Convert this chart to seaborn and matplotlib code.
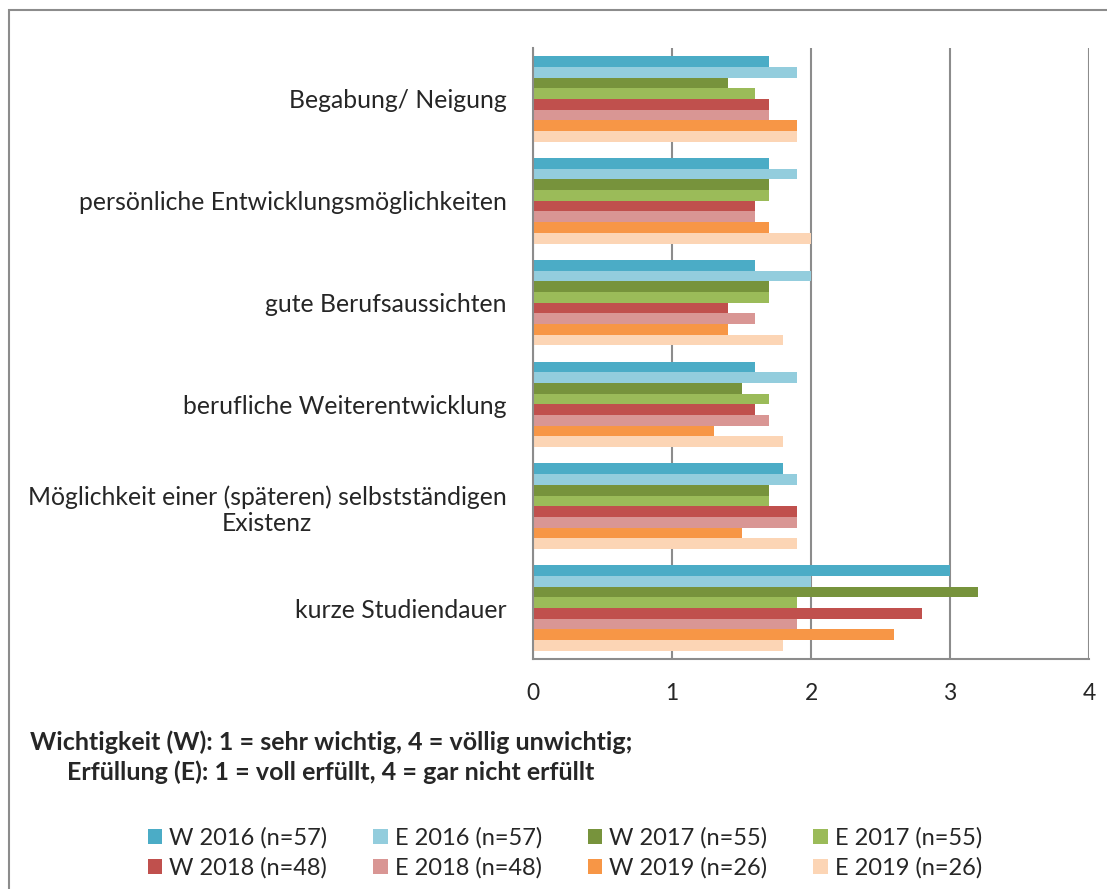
import matplotlib
matplotlib.use("Agg")
import matplotlib.pyplot as plt
from matplotlib.patches import Rectangle, Patch
import seaborn as sns
import pandas as pd

categories = [
    "Begabung/ Neigung",
    "persönliche Entwicklungsmöglichkeiten",
    "gute Berufsaussichten",
    "berufliche Weiterentwicklung",
    "Möglichkeit einer (späteren) selbstständigen\nExistenz",
    "kurze Studiendauer",
]
series = ["W 2016 (n=57)", "E 2016 (n=57)", "W 2017 (n=55)", "E 2017 (n=55)",
          "W 2018 (n=48)", "E 2018 (n=48)", "W 2019 (n=26)", "E 2019 (n=26)"]
w2016 = [1.7, 1.7, 1.6, 1.6, 1.8, 3.0]
e2016 = [1.9, 1.9, 2.0, 1.9, 1.9, 2.0]
w2017 = [1.4, 1.7, 1.7, 1.5, 1.7, 3.2]
e2017 = [1.6, 1.7, 1.7, 1.7, 1.7, 1.9]
w2018 = [1.7, 1.6, 1.4, 1.6, 1.9, 2.8]
e2018 = [1.7, 1.6, 1.6, 1.7, 1.9, 1.9]
w2019 = [1.9, 1.7, 1.4, 1.3, 1.5, 2.6]
e2019 = [1.9, 2.0, 1.8, 1.8, 1.9, 1.8]
colors = ["#4BACC6", "#93CDDD", "#77933C", "#9BBB59",
          "#C0504D", "#D99694", "#F79646", "#FCD5B5"]
xticks = [0, 1, 2, 3, 4]
note = ("Wichtigkeit (W): 1 = sehr wichtig, 4 = völlig unwichtig;\n"
        "Erfüllung (E): 1 = voll erfüllt, 4 = gar nicht erfüllt")

values = [w2016, e2016, w2017, e2017, w2018, e2018, w2019, e2019]
rows = []
for s, vals in zip(series, values):
    for c, v in zip(categories, vals):
        rows.append({"cat": c, "series": s, "value": v})
df = pd.DataFrame(rows)

sns.set_theme(style="white")
plt.rcParams["font.family"] = ["Lato", "DejaVu Sans"]

fig = plt.figure(figsize=(11.07, 8.89), dpi=100)
ax = fig.add_axes([533/1107, 1-659/889, (1089-533)/1107, (659-48)/889])

sns.barplot(data=df, y="cat", x="value", hue="series", order=categories,
            hue_order=series, palette=colors, saturation=1, width=0.84, dodge=True,
            orient="h", ax=ax, edgecolor="none", linewidth=0, legend=False)

ax.set_xlim(0, 4)
ax.set_ylim(len(categories) - 0.5, -0.5)
ax.set_xticks(xticks)
ax.set_xticklabels([str(t) for t in xticks], fontsize=16.5)
ax.set_xlabel("")
ax.set_ylabel("")
ax.xaxis.grid(True, color="#8C8C8C", linewidth=1.5)
ax.set_axisbelow(True)
for s in ["top", "right"]:
    ax.spines[s].set_visible(False)
for s in ["left", "bottom"]:
    ax.spines[s].set_visible(True)
    ax.spines[s].set_color("#8C8C8C")
    ax.spines[s].set_linewidth(1.5)

ax.set_yticks(range(len(categories)))
ax.set_yticklabels(categories, fontsize=17.8, multialignment="center")
ax.tick_params(axis="y", length=0, pad=19)
ax.set_yticks([i - 0.5 for i in range(len(categories) + 1)], minor=True)
ax.tick_params(axis="y", which="minor", length=9, width=1.5, color="#8C8C8C", direction="out")
ax.tick_params(axis="x", length=9, width=1.5, color="#8C8C8C", direction="out", pad=8)

fig.text(331/1107, 1-757/889, note, fontsize=18, fontweight="bold",
         va="center", ha="center", multialignment="center", linespacing=1.35)

handles = [Patch(facecolor=c, edgecolor="none") for c in colors]
order = [0, 4, 1, 5, 2, 6, 3, 7]
fig.legend([handles[i] for i in order], [series[i] for i in order], ncol=4,
           loc="center", bbox_to_anchor=(565/1107, 1-853/889), frameon=False,
           fontsize=17, handlelength=0.6, handleheight=0.6, handletextpad=0.3,
           columnspacing=1.95, labelspacing=0.38, borderpad=0)

fig.patches.append(Rectangle((9/1107, -0.01), 1.1, 1-10/889 + 0.01, transform=fig.transFigure,
                             fill=False, edgecolor="#8C8C8C", linewidth=1.5))

fig.savefig("out.png", dpi=100)
